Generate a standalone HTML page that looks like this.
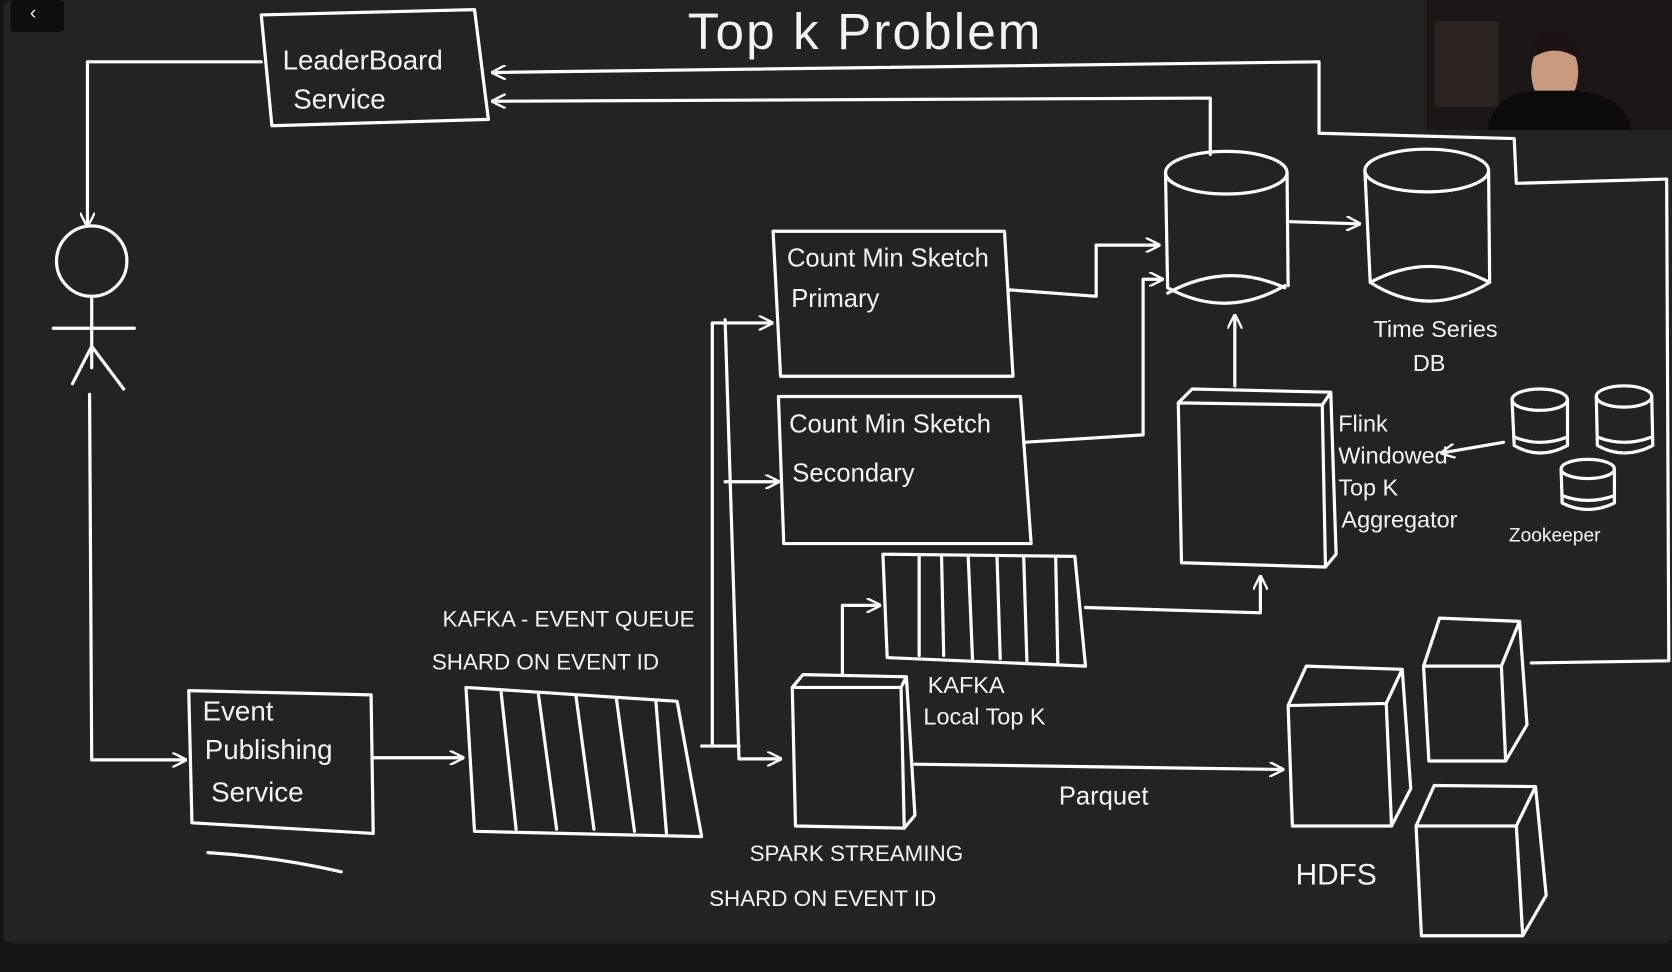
<!DOCTYPE html>
<html><head><meta charset="utf-8"><style>
html,body{margin:0;padding:0;background:#141414;}
svg{display:block;}
text{font-family:"Liberation Sans",sans-serif;fill:#f4f4f4;}
</style></head><body>
<svg width="1672" height="972" viewBox="0 0 1568 912" preserveAspectRatio="none" xmlns="http://www.w3.org/2000/svg">
<defs>
<marker id="a" viewBox="0 0 10 10" refX="9" refY="5" markerWidth="14" markerHeight="14" orient="auto-start-reverse" markerUnits="userSpaceOnUse"><path d="M0,0 L10,5 L0,10" fill="none" stroke="#fff" stroke-width="1.6"/></marker>
</defs>
<rect x="0" y="0" width="1568" height="912" fill="#141414"/>
<rect x="3" y="0" width="1565" height="885" rx="8" fill="#232323"/>
<rect x="10" y="0" width="50" height="30" rx="4" fill="#0e0e0e"/>
<text x="28" y="18" font-size="18" fill="#aaa">‹</text>
<rect x="1338" y="0" width="230" height="122" fill="#1a1716"/>
<rect x="1345" y="20" width="60" height="80" fill="#2a2320"/>
<ellipse cx="1458" cy="68" rx="22" ry="32" fill="#c89a80"/>
<path d="M1395,122 Q1400,88 1440,85 L1478,85 Q1525,90 1530,122 Z" fill="#0b0b0b"/>
<path d="M1436,40 Q1458,15 1482,45 L1480,55 Q1458,40 1436,55 Z" fill="#1b1412"/>

<g fill="none" stroke="#fff" stroke-width="3" stroke-linecap="round" stroke-linejoin="round">
<path d="M245,14 L445,9 L458,112 L255,118 Z"/>
<path d="M245,58 L82,58 L82,212" marker-end="url(#a)"/>
<circle cx="86" cy="245" r="33"/>
<path d="M86,278 L86,345 M50,308 L126,308 M86,325 L68,360 M86,325 L116,365"/>
<path d="M84,370 L86,713 L174,713" marker-end="url(#a)"/>
<path d="M177,648 L348,652 L350,782 L180,772 Z"/>
<path d="M195,800 Q260,804 320,818"/>
<path d="M350,711 L434,711" marker-end="url(#a)"/>
<path d="M437,645 L635,658 L658,785 L445,780 Z"/>
<path d="M470,650 L484,778 M505,652 L522,778 M540,652 L557,778 M578,655 L595,780 M615,657 L625,782"/>
<path d="M658,700 L693,700"/>
<path d="M668,700 L668,303 L724,303" marker-end="url(#a)"/>
<path d="M680,452 L730,452" marker-end="url(#a)"/>
<path d="M680,300 L693,712 L732,712" marker-end="url(#a)"/>
<path d="M725,217 L942,217 L950,353 L732,353 Z"/>
<path d="M730,372 L957,372 L967,510 L735,510 Z"/>
<path d="M947,272 L1028,278 L1028,230 L1087,230" marker-end="url(#a)"/>
<path d="M960,415 L1072,408 L1072,262 L1090,262" marker-end="url(#a)"/>
<ellipse cx="1150" cy="162" rx="57" ry="20"/>
<path d="M1093,162 L1095,270 M1207,162 L1208,268"/>
<path d="M1095,270 Q1150,300 1205,268 M1095,275 Q1150,245 1205,270"/>
<path d="M1210,208 L1275,210" marker-end="url(#a)"/>
<ellipse cx="1338" cy="160" rx="58" ry="20"/>
<path d="M1280,160 L1285,265 M1396,160 L1397,265 M1285,265 Q1340,300 1397,265 M1285,265 Q1340,235 1397,265"/>
<path d="M1135,145 L1135,92 L462,95" marker-end="url(#a)"/>
<path d="M1436,622 L1565,620 L1563,168 L1422,172 L1420,130 L1237,125 L1237,58 L462,68" marker-end="url(#a)"/>
<path d="M1105,378 L1240,380 L1243,532 L1108,528 Z M1105,378 L1118,365 L1248,368 L1253,520 L1243,532 M1240,380 L1248,368"/>
<path d="M1158,362 L1158,296" marker-end="url(#a)"/>
<ellipse cx="1444" cy="375" rx="26" ry="10"/><path d="M1418,375 L1420,418 Q1444,432 1470,418 L1470,375 M1420,410 Q1444,420 1470,410"/>
<ellipse cx="1523" cy="372" rx="26" ry="10"/><path d="M1497,372 L1498,418 Q1523,432 1550,418 L1549,372 M1498,410 Q1523,420 1549,410"/>
<ellipse cx="1489" cy="440" rx="25" ry="9"/><path d="M1464,440 L1465,472 Q1489,484 1514,472 L1514,440 M1465,465 Q1489,474 1514,465"/>
<path d="M1410,415 L1352,425" marker-end="url(#a)"/>
<path d="M828,520 L1008,522 L1018,625 L832,617 Z"/>
<path d="M862,522 L862,615 M883,522 L885,615 M908,522 L912,618 M935,522 L938,618 M960,522 L963,620 M990,522 L992,622"/>
<path d="M1018,570 L1182,575 L1182,541" marker-end="url(#a)"/>
<path d="M743,645 L845,645 L848,777 L746,775 Z M743,645 L753,633 L850,635 L858,765 L848,777 M845,645 L850,635"/>
<path d="M790,633 L790,568 L825,568" marker-end="url(#a)"/>
<path d="M858,717 L1203,722" marker-end="url(#a)"/>
<path d="M1208,662 L1300,660 L1305,775 L1212,775 Z M1208,662 L1225,625 L1315,628 L1323,740 L1305,775 M1300,660 L1315,628"/>
<path d="M1335,625 L1408,625 L1412,714 L1340,714 Z M1335,625 L1350,580 L1425,583 L1432,680 L1412,714 M1408,625 L1425,583"/>
<path d="M1328,775 L1422,775 L1428,878 L1333,878 Z M1328,775 L1345,737 L1440,738 L1450,840 L1428,878 M1422,775 L1440,738"/>
</g>

<g font-size="26">
<text x="645" y="46" font-size="48" letter-spacing="2">Top k Problem</text>
<text x="265" y="65">LeaderBoard</text>
<text x="275" y="102">Service</text>
<text x="190" y="676">Event</text>
<text x="192" y="712">Publishing</text>
<text x="198" y="752">Service</text>
<text x="415" y="588" font-size="21">KAFKA - EVENT QUEUE</text>
<text x="405" y="628" font-size="21">SHARD ON EVENT ID</text>
<text x="738" y="250" font-size="24">Count Min Sketch</text>
<text x="742" y="288" font-size="24">Primary</text>
<text x="740" y="406" font-size="24">Count Min Sketch</text>
<text x="743" y="452" font-size="24">Secondary</text>
<text x="1288" y="316" font-size="22">Time Series</text>
<text x="1325" y="348" font-size="22">DB</text>
<text x="1255" y="405" font-size="22">Flink</text>
<text x="1255" y="435" font-size="22">Windowed</text>
<text x="1255" y="465" font-size="22">Top K</text>
<text x="1258" y="495" font-size="22">Aggregator</text>
<text x="1415" y="508" font-size="18">Zookeeper</text>
<text x="870" y="650" font-size="22">KAFKA</text>
<text x="866" y="680" font-size="22">Local Top K</text>
<text x="703" y="808" font-size="21">SPARK STREAMING</text>
<text x="665" y="850" font-size="21">SHARD ON EVENT ID</text>
<text x="993" y="755" font-size="24">Parquet</text>
<text x="1215" y="830" font-size="28">HDFS</text>
</g>
</svg>
</body></html>
